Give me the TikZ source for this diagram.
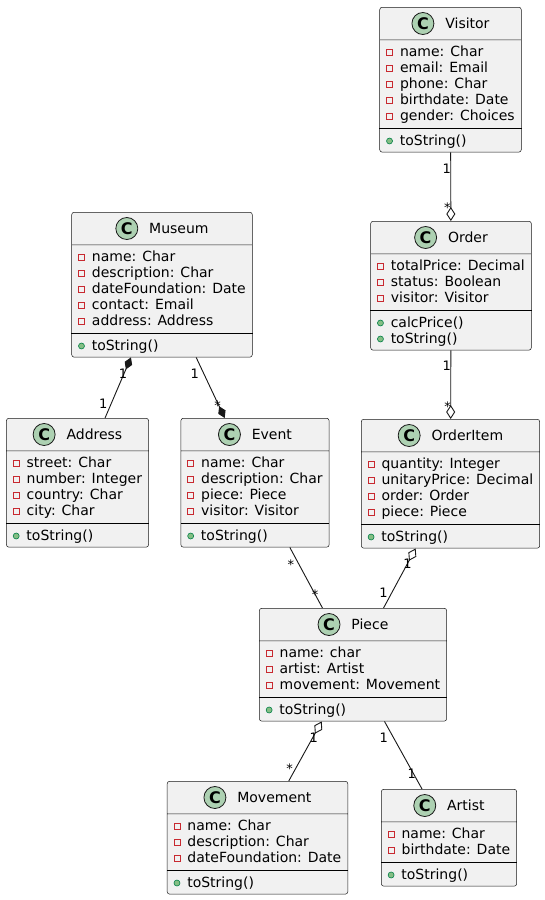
\documentclass[tikz,border=0pt]{standalone}
\usepackage{fontspec}
\setmainfont{DejaVu Sans}
\usetikzlibrary{shapes.multipart,arrows.meta}

\definecolor{umlfill}{HTML}{F1F1F1}
\definecolor{umlline}{HTML}{181818}
\definecolor{spotfill}{HTML}{ADD1B2}
\definecolor{privred}{HTML}{C82930}
\definecolor{pubfill}{HTML}{84BE84}
\definecolor{publine}{HTML}{038048}

\newcommand{\rowstrut}{\rule[-3.5pt]{0pt}{16pt}}
\newcommand{\methstrut}{\rule[-0.5pt]{0pt}{13pt}}
\newcommand{\hdstrut}{\rule[-7.5pt]{0pt}{24pt}}
\newcommand{\spot}{\tikz[baseline=-4.5pt]\node[circle,anchor=center,draw=umlline,line width=0.8pt,fill=spotfill,inner sep=0pt,outer sep=0pt,minimum size=22pt,font=\fontsize{16}{16}\bfseries\selectfont] at (0pt,0pt) {C};}
\newcommand{\privicon}{\tikz[baseline=0pt]\draw[privred,line width=0.8pt,sharp corners] (0pt,1.5pt) rectangle (6pt,7.5pt);}
\newcommand{\pubicon}{\tikz[baseline=0pt]\draw[publine,fill=pubfill,line width=0.6pt] (3pt,4pt) circle[radius=3pt];}
\newcommand{\umlattr}[1]{\rowstrut\privicon\hspace{7pt}#1}
\newcommand{\umlmeth}[1]{\methstrut\pubicon\hspace{7pt}#1}
\newcommand{\umlname}[1]{\hdstrut\spot\hspace{11pt}#1}

\begin{document}
\begin{tikzpicture}[x=1pt,y=-1pt,
  umlclass/.style={rectangle split,rectangle split parts=3,
    rectangle split part align={center,left,left},
    draw=umlline,line width=0.5pt,fill=umlfill,rounded corners=2.5pt,
    inner xsep=6.5pt,inner ysep=4pt,align=left,anchor=north,
    font=\fontsize{14}{16}\selectfont},
  sep/.style={draw=black,line width=1pt},
  assoc/.style={draw=umlline,line width=0.9pt},
  mult/.style={font=\fontsize{13}{13}\selectfont,inner sep=0pt}]
\path[use as bounding box,fill=white] (0,0) rectangle (545,900);

\node[umlclass,minimum width=139pt] (visitor) at (450.5,7) {\umlname{Visitor}
  \nodepart{two}\umlattr{name: Char}\\\umlattr{email: Email}\\\umlattr{phone: Char}\\\umlattr{birthdate: Date}\\\umlattr{gender: Choices}
  \nodepart{three}\umlmeth{toString()}};
\node[umlclass,minimum width=158pt] (order) at (451,221) {\umlname{Order}
  \nodepart{two}\umlattr{totalPrice: Decimal}\\\umlattr{status: Boolean}\\\umlattr{visitor: Visitor}
  \nodepart{three}\umlmeth{calcPrice()}\\\umlmeth{toString()}};
\node[umlclass,minimum width=177pt] (orderitem) at (450.5,419) {\umlname{OrderItem}
  \nodepart{two}\umlattr{quantity: Integer}\\\umlattr{unitaryPrice: Decimal}\\\umlattr{order: Order}\\\umlattr{piece: Piece}
  \nodepart{three}\umlmeth{toString()}};
\node[umlclass,minimum width=178pt] (museum) at (162,212) {\umlname{Museum}
  \nodepart{two}\umlattr{name: Char}\\\umlattr{description: Char}\\\umlattr{dateFoundation: Date}\\\umlattr{contact: Email}\\\umlattr{address: Address}
  \nodepart{three}\umlmeth{toString()}};
\node[umlclass,minimum width=139pt] (address) at (77.5,418) {\umlname{Address}
  \nodepart{two}\umlattr{street: Char}\\\umlattr{number: Integer}\\\umlattr{country: Char}\\\umlattr{city: Char}
  \nodepart{three}\umlmeth{toString()}};
\node[umlclass,minimum width=146pt] (event) at (255,418) {\umlname{Event}
  \nodepart{two}\umlattr{name: Char}\\\umlattr{description: Char}\\\umlattr{piece: Piece}\\\umlattr{visitor: Visitor}
  \nodepart{three}\umlmeth{toString()}};
\node[umlclass,minimum width=184pt] (piece) at (353,608) {\umlname{Piece}
  \nodepart{two}\umlattr{name: char}\\\umlattr{artist: Artist}\\\umlattr{movement: Movement}
  \nodepart{three}\umlmeth{toString()}};
\node[umlclass,minimum width=179pt] (movement) at (257.5,781) {\umlname{Movement}
  \nodepart{two}\umlattr{name: Char}\\\umlattr{description: Char}\\\umlattr{dateFoundation: Date}
  \nodepart{three}\umlmeth{toString()}};
\node[umlclass,minimum width=132pt] (artist) at (449,789) {\umlname{Artist}
  \nodepart{two}\umlattr{name: Char}\\\umlattr{birthdate: Date}
  \nodepart{three}\umlmeth{toString()}};

% fields / methods separators
\path[sep] (visitor.two split west) -- (visitor.two split east);
\path[sep] (order.two split west) -- (order.two split east);
\path[sep] (orderitem.two split west) -- (orderitem.two split east);
\path[sep] (museum.two split west) -- (museum.two split east);
\path[sep] (address.two split west) -- (address.two split east);
\path[sep] (event.two split west) -- (event.two split east);
\path[sep] (piece.two split west) -- (piece.two split east);
\path[sep] (movement.two split west) -- (movement.two split east);
\path[sep] (artist.two split west) -- (artist.two split east);

\path[assoc,-{Diamond[open,length=14pt,width=9pt]}] (visitor) -- (order)
  node[mult,pos=0.24,xshift=-4pt] {1} node[mult,pos=0.80,xshift=-3.5pt] {*};
\path[assoc,-{Diamond[open,length=14pt,width=9pt]}] (order) -- (orderitem)
  node[mult,pos=0.22,xshift=-4pt] {1} node[mult,pos=0.82,xshift=-3pt] {*};
\path[assoc,{Diamond[length=13pt,width=8pt]}-] (museum) -- (address)
  node[mult,pos=0.27,xshift=-1pt] {1} node[mult,pos=0.76,xshift=-8pt] {1};
\path[assoc,-{Diamond[length=13pt,width=8pt]}] (museum) -- (event)
  node[mult,pos=0.27,xshift=-9pt] {1} node[mult,pos=0.79,xshift=-1pt] {*};
\path[assoc] (event) -- (piece)
  node[mult,pos=0.29,xshift=-8.5pt] {*} node[mult,pos=0.775,xshift=0pt] {*};
\path[assoc,{Diamond[open,length=14pt,width=9pt]}-] (orderitem) -- (piece)
  node[mult,pos=0.25,xshift=0pt] {1} node[mult,pos=0.75,xshift=-8pt] {1};
\path[assoc,{Diamond[open,length=14pt,width=9pt]}-] (piece) -- (movement)
  node[mult,pos=0.27,xshift=1pt] {1} node[mult,pos=0.79,xshift=-6pt] {*};
\path[assoc] (piece) -- (artist)
  node[mult,pos=0.235,xshift=-9.5pt] {1} node[mult,pos=0.78,xshift=-2pt] {1};
\end{tikzpicture}
\end{document}
